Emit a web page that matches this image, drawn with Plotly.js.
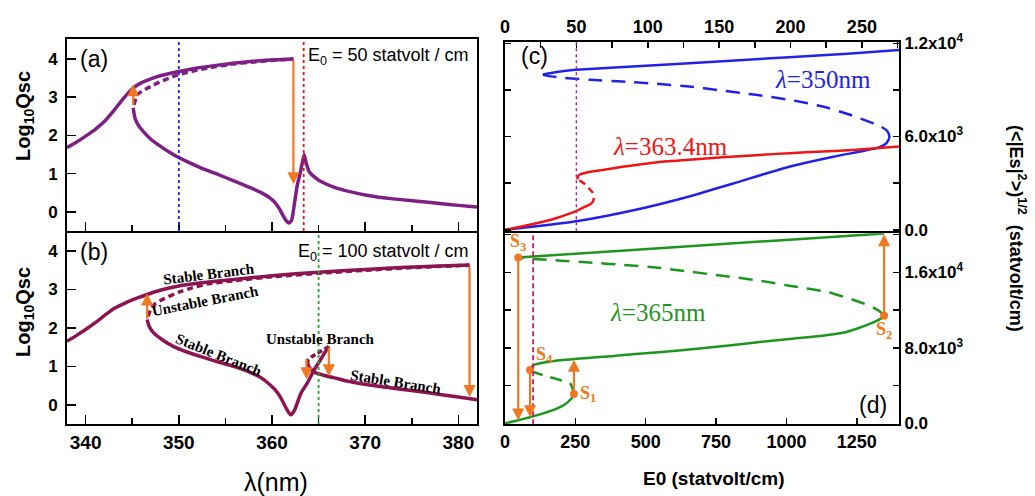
<!DOCTYPE html>
<html><head><meta charset="utf-8">
<script src="https://cdn.plot.ly/plotly-3.0.1.min.js"></script>
<style>html,body{margin:0;padding:0;background:#fff}</style>
</head><body><div id="chart" style="width:1035px;height:496px"></div>
<script>
// ---------- Panel (a): E0 = 50 statvolt/cm ----------
const aUpperX = [338, 339, 340, 341, 342, 343, 344, 345, 346, 347, 348, 350, 352, 354, 356, 358, 360, 362.3];
const aUpperY = [1.68, 1.82, 1.98, 2.15, 2.36, 2.64, 2.95, 3.22, 3.38, 3.48, 3.56, 3.67, 3.76, 3.83, 3.89, 3.94, 3.97, 4.0];
const aUnstX = [345.2, 345.5, 346, 347, 348, 349, 350, 351, 352, 354, 356, 358, 360, 362.3];
const aUnstY = [2.8, 3.05, 3.15, 3.28, 3.4, 3.5, 3.59, 3.65, 3.71, 3.8, 3.87, 3.92, 3.96, 4.0];
const aLowerX = [345.1, 345.3, 345.7, 346.2, 347, 348, 349, 350, 351, 352.3, 354, 355.9, 357.5, 358.8, 359.8, 360.3, 360.8, 361.1, 361.5, 361.8, 362.1, 362.4, 362.7, 363.1, 363.45, 363.7, 364, 364.5, 365.2, 366.7, 368, 370.3, 373, 375.6, 378, 380, 382];
const aLowerY = [2.72, 2.45, 2.25, 2.1, 1.9, 1.72, 1.56, 1.42, 1.3, 1.16, 1.0, 0.81, 0.65, 0.51, 0.36, 0.25, 0.08, -0.06, -0.22, -0.29, -0.22, 0.2, 0.68, 1.1, 1.5, 1.25, 1.05, 0.92, 0.8, 0.64, 0.55, 0.43, 0.34, 0.28, 0.22, 0.17, 0.13];
const aVLines = [350, 363.4];
const aArrowX = [345.1, 362.3];
const aArrowFrom = [2.75, 4.0];
const aArrowTo = [3.34, 0.72];

// ---------- Panel (b): E0 = 100 statvolt/cm ----------
const bUpperX = [338, 339, 340, 341, 342, 343, 344, 345, 346.6, 348, 350, 352, 355.9, 360, 365, 370, 373.8, 378, 381.2];
const bUpperY = [1.65, 1.8, 1.96, 2.13, 2.32, 2.5, 2.62, 2.73, 2.87, 2.98, 3.09, 3.16, 3.26, 3.36, 3.45, 3.52, 3.57, 3.61, 3.64];
const bUnstX = [346.7, 347, 347.5, 348.5, 350, 351.5, 353, 356, 360, 365, 370, 375, 381.2];
const bUnstY = [2.3, 2.5, 2.64, 2.77, 2.93, 3.05, 3.14, 3.23, 3.33, 3.42, 3.5, 3.57, 3.63];
const bLowerX = [346.6, 346.8, 347.3, 348.3, 349.4, 350.8, 352.3, 354, 355.9, 357.5, 358.7, 359.5, 360.3, 360.9, 361.5, 362.0, 362.4, 363.1, 363.8, 364.5, 365.2, 365.7, 366.1];
const bLowerY = [2.22, 2.05, 1.87, 1.68, 1.52, 1.38, 1.26, 1.13, 1.0, 0.86, 0.72, 0.58, 0.4, 0.2, -0.08, -0.26, -0.15, 0.3, 0.57, 0.9, 1.17, 1.37, 1.52];
const bLoopX = [366.1, 365.5, 364.8, 364.2, 363.8];
const bLoopY = [1.52, 1.43, 1.33, 1.24, 1.15];
const bRightX = [363.8, 363.9, 364.2, 364.7, 365.5, 366.7, 368, 370.3, 373, 375.6, 378, 380, 382];
const bRightY = [1.15, 1.02, 0.92, 0.83, 0.77, 0.7, 0.62, 0.52, 0.43, 0.35, 0.27, 0.2, 0.13];
const bVLines = [365];
const bArrowX = [346.6, 363.7, 366.1, 381.2];
const bArrowFrom = [2.2, 1.24, 1.52, 3.63];
const bArrowTo = [2.9, 0.66, 0.74, 0.2];

// ---------- Panel (c): lambda = 350 nm and 363.4 nm ----------
const cBlueLowX = [0, 25, 50, 90, 129, 160, 199, 230, 250, 262, 267, 269.3];
const cBlueLowY = [0, 250, 540, 1250, 2141, 2980, 4050, 4700, 5050, 5300, 5550, 5900];
const cBlueDashX = [269.3, 268.8, 267, 263, 257.6, 240, 222.6, 200, 175.8, 150, 129, 105, 82.3, 60, 49.6, 38, 30, 26.5];
const cBlueDashY = [5900, 6180, 6420, 6660, 6860, 7450, 7930, 8350, 8680, 8980, 9215, 9400, 9535, 9650, 9709, 9800, 9900, 9990];
const cBlueUpX = [26.5, 32, 40, 49.6, 80, 129, 199, 240, 276];
const cBlueUpY = [9990, 10080, 10200, 10288, 10450, 10717, 11103, 11330, 11572];
const cRedLowX = [0, 10, 22.7, 35, 46, 52, 56.6, 60];
const cRedLowY = [0, 180, 430, 720, 1072, 1300, 1500, 1650];
const cRedDashX = [60, 61.8, 62.2, 61.3, 59, 56.5, 53.5, 50.5];
const cRedDashY = [1650, 1850, 2100, 2400, 2650, 2900, 3100, 3250];
const cRedUpX = [50.5, 51.5, 53, 55.4, 60, 69.4, 82.3, 105.7, 129, 152.4, 175.8, 199, 222.6, 246, 276];
const cRedUpY = [3250, 3480, 3580, 3640, 3730, 3860, 4050, 4330, 4500, 4670, 4800, 4930, 5035, 5144, 5357];
const cVLines = [50];

// ---------- Panel (d): lambda = 365 nm ----------
const dLowX = [0, 40, 85, 130, 180, 215, 235, 245];
const dLowY = [0, 280, 620, 1000, 1500, 2050, 2600, 3100];
const dDash1X = [245, 240, 233, 200, 160, 120, 100, 89];
const dDash1Y = [3100, 3650, 4175, 4550, 4900, 5250, 5450, 5650];
const dMidX = [89, 95, 103, 180, 393, 535, 700, 891, 1010, 1128, 1200, 1247, 1300, 1335, 1347];
const dMidY = [5650, 6000, 6200, 6644, 7174, 7524, 7950, 8583, 8950, 9293, 9600, 10003, 10600, 11100, 11412];
const dDash2X = [1347, 1330, 1300, 1247, 1150, 1010, 900, 772, 650, 535, 420, 299, 200, 97, 60, 47];
const dDash2Y = [11412, 11900, 12400, 13002, 13900, 14591, 15150, 15651, 16100, 16534, 16800, 17064, 17250, 17422, 17520, 17590];
const dUpX = [47, 400, 800, 1200, 1347];
const dUpY = [17590, 18280, 19060, 19850, 20140];
const dVLines = [100];
const dPointX = [245, 1347, 47, 89];
const dPointY = [3100, 11412, 17590, 5650];
const dPointLabels = ['S<sub>1</sub>', 'S<sub>2</sub>', 'S<sub>3</sub>', 'S<sub>4</sub>'];
const dArrowX = [47, 89, 245, 1347];
const dArrowFrom = [17590, 5650, 3100, 11412];
const dArrowTo = [300, 650, 6750, 20050];

// tick labels
const cTickVals = [0, 6000, 12000];
const cTickText = ['0.0', '6.0x10<sup>3</sup>', '1.2x10<sup>4</sup>'];
const dTickVals = [0, 8000, 16000];
const dTickText = ['0.0', '8.0x10<sup>3</sup>', '1.6x10<sup>4</sup>'];

// ---------- styling ----------
const SANS = 'Liberation Sans, Arial, sans-serif';
const SERIF = 'Liberation Serif, Times New Roman, serif';
const PURPLE = '#7e1f86', MAROON = '#8c1452', BLUE = '#2222e6', RED = '#f01414', GREEN = '#1e961e', ORANGE = '#f07820';
const W = 1035, H = 496;
const PX = v => v / W, PY = v => 1 - v / H;

function ln(x, y, color, width, dash, xa, ya) {
  return {x: x, y: y, type: 'scatter', mode: 'lines', xaxis: xa, yaxis: ya, hoverinfo: 'skip',
    line: {color: color, width: width, dash: dash || 'solid', shape: 'spline', smoothing: 0.5}, showlegend: false};
}

const traces = [
  ln(aUpperX, aUpperY, PURPLE, 3.5, null, 'x', 'y'),
  ln(aUnstX, aUnstY, PURPLE, 3.5, '6px,4px', 'x', 'y'),
  ln(aLowerX, aLowerY, PURPLE, 3.5, null, 'x', 'y'),
  ln(bUpperX, bUpperY, MAROON, 3.5, null, 'x2', 'y2'),
  ln(bUnstX, bUnstY, MAROON, 3.5, '6px,4px', 'x2', 'y2'),
  ln(bLowerX, bLowerY, MAROON, 3.5, null, 'x2', 'y2'),
  ln(bLoopX, bLoopY, MAROON, 3.5, '5px,3px', 'x2', 'y2'),
  ln(bRightX, bRightY, MAROON, 3.5, null, 'x2', 'y2'),
  ln(cBlueLowX, cBlueLowY, BLUE, 2.5, null, 'x3', 'y3'),
  ln(cBlueDashX, cBlueDashY, BLUE, 2.5, '14px,9px', 'x3', 'y3'),
  ln(cBlueUpX, cBlueUpY, BLUE, 2.5, null, 'x3', 'y3'),
  ln(cRedLowX, cRedLowY, RED, 2.5, null, 'x3', 'y3'),
  ln(cRedDashX, cRedDashY, RED, 2.5, '7px,5px', 'x3', 'y3'),
  ln(cRedUpX, cRedUpY, RED, 2.5, null, 'x3', 'y3'),
  ln(dLowX, dLowY, GREEN, 2.5, null, 'x4', 'y4'),
  ln(dDash1X, dDash1Y, GREEN, 2.5, '12px,8px', 'x4', 'y4'),
  ln(dMidX, dMidY, GREEN, 2.5, null, 'x4', 'y4'),
  ln(dDash2X, dDash2Y, GREEN, 2.5, '14px,9px', 'x4', 'y4'),
  ln(dUpX, dUpY, GREEN, 2.5, null, 'x4', 'y4'),
  {x: dPointX, y: dPointY, type: 'scatter', mode: 'markers+text', xaxis: 'x4', yaxis: 'y4', hoverinfo: 'skip',
   marker: {color: ORANGE, size: 8}, text: dPointLabels, showlegend: false,
   textposition: ['middle right', 'bottom center', 'top center', 'top right'],
   textfont: {family: SERIF, size: 18, color: ORANGE, weight: 'bold'}}
];

const shapes = [];
function vline(v, xa, ya, color, dash, width) {
  shapes.push({type: 'line', xref: xa, yref: ya + ' domain', x0: v, x1: v, y0: 0, y1: 1,
    line: {color: color, width: width, dash: dash}});
}
vline(aVLines[0], 'x', 'y', BLUE, 'dot', 1.8);
vline(aVLines[1], 'x', 'y', RED, 'dot', 1.8);
vline(bVLines[0], 'x2', 'y2', '#22aa22', 'dot', 1.8);
vline(cVLines[0], 'x3', 'y3', '#9a2aa8', 'dot', 1.5);
vline(dVLines[0], 'x4', 'y4', '#c0206e', '5px,3px', 1.8);

const ann = [];
function arrows(xs, from, to, xa, ya, w) {
  for (let i = 0; i < xs.length; i++) {
    ann.push({x: xs[i], y: to[i], ax: xs[i], ay: from[i], xref: xa, yref: ya, axref: xa, ayref: ya,
      text: '', showarrow: true, arrowhead: 2, arrowsize: 1.1, arrowwidth: w, arrowcolor: ORANGE, standoff: 0, startstandoff: 0});
  }
}
arrows(aArrowX, aArrowFrom, aArrowTo, 'x', 'y', 2.2);
arrows(bArrowX, bArrowFrom, bArrowTo, 'x2', 'y2', 2.2);
arrows(dArrowX, dArrowFrom, dArrowTo, 'x4', 'y4', 2.2);

function txt(t, x, y, opts) {
  ann.push(Object.assign({text: t, x: PX(x), y: PY(y), xref: 'paper', yref: 'paper', showarrow: false,
    xanchor: 'center', yanchor: 'middle'}, opts));
}
const labF = {family: SANS, size: 23, color: '#000'};
txt('(a)', 94, 59, {font: labF});
txt('(b)', 94, 252, {font: labF});
txt('(c)', 534, 56, {font: labF});
txt('(d)', 873, 405, {font: labF});
txt('E<sub>0</sub> = 50 statvolt / cm', 306, 57, {xanchor: 'left', font: {family: SANS, size: 18, color: '#000'}});
txt('E<sub>0</sub> = 100 statvolt / cm', 296, 252, {xanchor: 'left', font: {family: SANS, size: 18, color: '#000'}});
const brF = {family: SERIF, size: 15, color: '#000', weight: 'bold'};
txt('Stable Branch', 209, 274, {font: brF, textangle: -7});
txt('Unstable Branch', 205, 301, {font: brF, textangle: -11});
txt('Stable Branch', 219, 355, {font: brF, textangle: 22});
txt('Unstable Branch', 320, 339, {font: brF});
txt('Stable Branch', 396, 382, {font: brF, textangle: 9});
txt('<i>λ</i>=350nm', 823, 80, {font: {family: SERIF, size: 25, color: BLUE}});
txt('<i>λ</i>=363.4nm', 670, 146, {font: {family: SERIF, size: 25, color: RED}});
txt('<i>λ</i>=365nm', 658, 312, {font: {family: SERIF, size: 25, color: GREEN}});
const ytF = {family: SANS, size: 20, color: '#000', weight: 'bold'};
txt('Log<sub>10</sub>Qsc', 24, 116, {font: ytF, textangle: -90});
txt('Log<sub>10</sub>Qsc', 24, 312, {font: ytF, textangle: -90});
txt('λ(nm)', 276, 482, {font: {family: SANS, size: 25, color: '#000'}});
txt('E0 (statvolt/cm)', 713, 478, {font: {family: SANS, size: 19, color: '#000', weight: 'bold'}});
txt('(<|Es|<sup>2</sup>>)<sup>1/2</sup>  (statvolt/cm)', 1018, 228, {font: {family: SANS, size: 18, color: '#000', weight: 'bold'}, textangle: 90});

const tickF = {family: SANS, size: 18, color: '#000', weight: 'bold'};
const ytickF = {family: SANS, size: 17, color: '#000', weight: 'bold'};
const LX = [67 / W, 477 / W], RX = [505 / W, 899 / W];
const base = {showline: true, linecolor: '#000', linewidth: 2, zeroline: false, showgrid: false,
  ticks: 'inside', tickcolor: '#000', tickwidth: 1.5, automargin: false, fixedrange: true};
function ax(o) { return Object.assign({}, base, o); }

const layout = {
  width: W, height: H, margin: {l: 0, r: 0, t: 0, b: 0}, paper_bgcolor: '#fff', plot_bgcolor: '#fff',
  showlegend: false,
  xaxis: ax({domain: LX, anchor: 'y', range: [338, 382], dtick: 10, tick0: 340, ticklen: 9, showticklabels: false, mirror: true,
    minor: {dtick: 5, tick0: 340, ticks: 'inside', ticklen: 6, tickwidth: 1.5, tickcolor: '#000'}}),
  yaxis: ax({domain: [1 - 231 / H, 1 - 39 / H], anchor: 'x', range: [-0.5, 4.52], dtick: 1, tick0: 0, ticklen: 9, mirror: true,
    tickfont: ytickF, ticklabelstandoff: 4}),
  xaxis2: ax({domain: LX, anchor: 'y2', range: [338, 382], dtick: 10, tick0: 340, ticklen: 9, mirror: true, tickfont: {family: SANS, size: 19, color: '#000', weight: 'bold'},
    minor: {dtick: 5, tick0: 340, ticks: 'inside', ticklen: 6, tickwidth: 1.5, tickcolor: '#000'}}),
  yaxis2: ax({domain: [1 - 424 / H, 1 - 233 / H], anchor: 'x2', range: [-0.5, 4.47], dtick: 1, tick0: 0, ticklen: 9, mirror: true,
    tickfont: ytickF, ticklabelstandoff: 4}),
  xaxis3: ax({domain: RX, anchor: 'y3', side: 'top', range: [0, 276], dtick: 50, tick0: 0, ticklen: 6, mirror: true, tickfont: tickF,
    minor: {dtick: 25, tick0: 0, ticks: 'inside', ticklen: 6, tickwidth: 1.5, tickcolor: '#000'}}),
  yaxis3: ax({domain: [1 - 231.3 / H, 1 - 41.7 / H], anchor: 'x3', side: 'right', range: [-100, 12100], tickmode: 'array',
    tickvals: cTickVals, ticktext: cTickText, ticklen: 6, mirror: 'ticks', tickfont: ytickF,
    minor: {tickmode: 'linear', dtick: 3000, tick0: 0, ticks: 'inside', ticklen: 6, tickwidth: 1.5, tickcolor: '#000'}}),
  xaxis4: ax({domain: RX, anchor: 'y4', range: [0, 1400], dtick: 250, tick0: 0, ticklen: 6, mirror: true, tickfont: tickF}),
  yaxis4: ax({domain: [1 - 424.3 / H, 1 - 233.3 / H], anchor: 'x4', side: 'right', range: [-100, 20150], tickmode: 'array',
    tickvals: dTickVals, ticktext: dTickText, ticklen: 6, mirror: 'ticks', tickfont: ytickF,
    minor: {tickmode: 'linear', dtick: 4000, tick0: 0, ticks: 'inside', ticklen: 6, tickwidth: 1.5, tickcolor: '#000'}}),
  shapes: shapes,
  annotations: ann
};

Plotly.newPlot('chart', traces, layout, {staticPlot: true, displayModeBar: false});
</script></body></html>
